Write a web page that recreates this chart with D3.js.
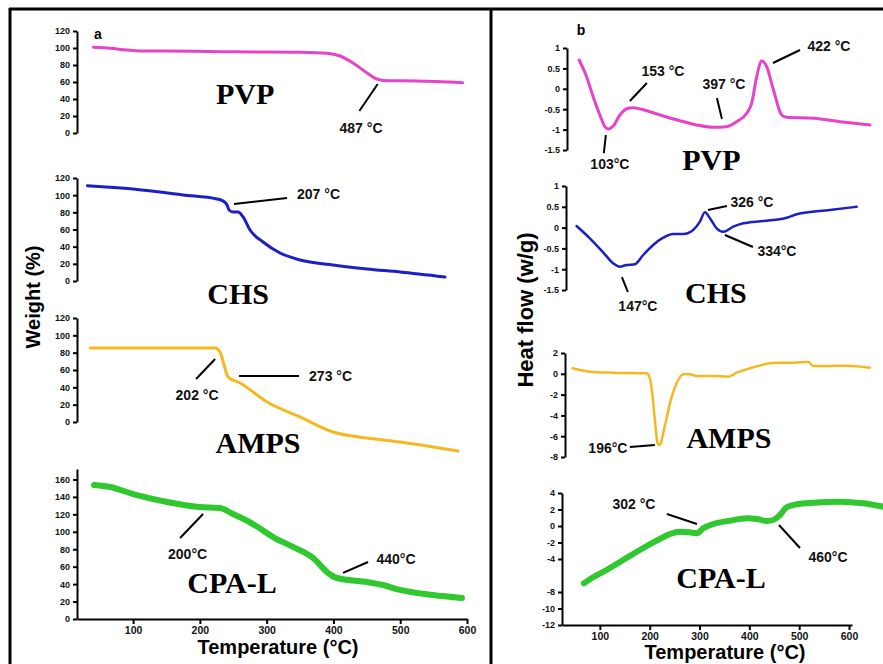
<!DOCTYPE html>
<html>
<head>
<meta charset="utf-8">
<script src="https://cdn.jsdelivr.net/npm/d3@7"></script>
<style>
  body { margin: 0; background: #fff; }
  svg { display: block; }
</style>
</head>
<body>
<div id="chart"></div>
<script>
const width = 883, height = 664;

// ---- TGA curves (a): [temperature °C, weight %]
const tgaPVP = [[40.6,100.8],[65.6,99.6],[90.6,97.6],[110.5,96.5],[150.4,96.5],[250.1,95.6],[350,94.9],[390,93.8],
  [409.9,90.6],[429.8,82],[449.8,70.9],[464.8,63.5],[479.8,61.5],[524.7,61.2],[593.6,59.2]];
const tgaCHS = [[31.6,111],[100,107.2],[174.9,100.2],[225.7,95.5],[234.7,93.2],[240.7,88.5],[243.7,82.7],[249.7,80.4],
  [257.2,80.4],[264.7,74.6],[275.1,59.4],[294.6,45.4],[320.1,32.6],[350,24.5],[399.4,18.6],[450.3,14],[499.7,10.5],[567,4.7]];
const tgaAMPS = [[35.6,85.4],[222.8,85.4],[230.2,80.8],[236.2,65.8],[242.2,51.9],[260.2,45],[300.6,23.1],[350,5.8],
  [399.4,-11.5],[450.3,-18.5],[499.7,-23.1],[549.1,-28.8],[586.5,-33.5]];
const tgaCPAL = [[41.6,153.7],[65.6,151.4],[100,143.3],[150.9,134.2],[198.8,128.4],[230.2,127.3],[249.7,120.4],
  [279.6,108.9],[309.6,94],[339.5,82.6],[369.5,70],[391.9,52.8],[405.4,47],[450.3,42.4],[474.3,39],[499.7,33.3],
  [549.1,27.5],[592.5,24.1]];

// ---- DSC curves (b): [temperature °C, heat flow w/g]
const dscPVP = [[58.4,0.706],[73.3,0.297],[86.5,-0.194],[100,-0.642],[110,-0.929],[116.7,-0.985],[126.7,-0.912],
  [140.2,-0.642],[156.8,-0.478],[166.9,-0.463],[193.8,-0.537],[227.1,-0.667],[260.6,-0.782],[294.2,-0.887],
  [327.5,-0.944],[354.4,-0.929],[374.5,-0.806],[394.6,-0.6],[404.6,-0.355],[414.7,0.297],[424.7,0.681],
  [434.8,0.542],[448.4,-0.029],[464.9,-0.642],[474.9,-0.699],[528.3,-0.723],[581.9,-0.806],[642.2,-0.887]];
const dscCHS = [[53.2,0.038],[79.9,-0.257],[106.6,-0.594],[126.7,-0.858],[140.2,-0.94],[153.6,-0.899],[170.3,-0.882],
  [186.9,-0.659],[207,-0.418],[227.1,-0.243],[247.2,-0.154],[267.3,-0.154],[287.3,-0.058],[300.8,0.142],
  [310.8,0.368],[320.9,0.224],[334.3,-0.017],[347.6,-0.099],[367.7,0.022],[387.8,0.103],[427.9,0.159],
  [474.9,0.238],[495,0.32],[561.8,0.423],[615.5,0.502]];
const dscAMPS = [[45.2,0.529],[79.9,0.202],[126.7,0.106],[193.8,0.048],[200.4,-0.433],[205.8,-2.202],[210.4,-4.442],
  [215.9,-6.683],[220.5,-6.846],[228.5,-5.404],[240.6,-2.837],[254,-0.913],[267.3,-0.048],[280.7,-0.048],
  [294.2,-0.212],[327.5,-0.212],[357.6,-0.279],[374.5,0.106],[407.8,0.625],[441.4,1.01],[461.4,1.067],
  [488.2,1.067],[518.3,1.135],[528.3,0.75],[561.8,0.75],[595.4,0.779],[642.2,0.587]];
const dscCPAL = [[67.9,-6.945],[86.5,-6.218],[113.5,-5.333],[146.8,-4.121],[180.3,-2.909],[213.9,-1.782],
  [240.6,-0.97],[260.6,-0.691],[280.7,-0.764],[294.2,-0.885],[307.4,-0.279],[327.5,0.242],[361,0.642],
  [394.6,0.933],[414.7,0.848],[434.7,0.606],[448,0.727],[461.4,1.333],[474.9,2.267],[495,2.63],[528.3,2.824],
  [581.9,2.945],[628.7,2.752],[668.9,2.339]];

// ---- tick values
const tempTicks = [100, 200, 300, 400, 500, 600];
const weightTicks = [0, 20, 40, 60, 80, 100, 120];
const weightTicksCPAL = [0, 20, 40, 60, 80, 100, 120, 140, 160];
const heatTicks = [-1.5, -1, -0.5, 0, 0.5, 1];
const heatTicksAMPS = [-8, -6, -4, -2, 0, 2];
const heatTicksCPAL = [-12, -10, -8, -4, -2, 0, 2, 4];

// ---- annotations: [text, line start [T,v], line end [T,v], text centre [T,v]]
const notesTgaPVP = [["487 °C", [466.3,57.6], [438.8,25.9], [441.3,5.9]]];
const notesTgaCHS = [["207 °C", [251.2,89.7], [330.5,96.7], [377.7,101.4]]];
const notesTgaAMPS = [["202 °C", [194.3,49.6], [222.8,72.7], [195.8,31.2]],
                      ["273 °C", [258.7,53.1], [348.5,53.1], [395.7,53.1]]];
const notesTgaCPAL = [["200°C", [170.4,92.9], [204.8,120.4], [181.6,74.5]],
                      ["440°C", [414.4,52.8], [451.8,65.4], [493.7,68.8]]];
const notesDscPVP = [["103°C", [112,-1.132], [108,-1.574], [120.1,-1.843]],
                     ["153 °C", [160.2,-0.299], [194.4,0.142], [226.5,0.436]],
                     ["397 °C", [334.9,-0.225], [345,-0.74], [349,0.118]],
                     ["422 °C", [447.4,0.632], [501.6,0.951], [559.8,1.049]]];
const notesDscCHS = [["326 °C", [316.9,0.423], [355,0.519], [405.2,0.615]],
                     ["334°C", [351,-0.178], [407.2,-0.466], [455.4,-0.563]],
                     ["147°C", [144.2,-1.188], [156.2,-1.548], [176.3,-1.885]]];
const notesDscAMPS = [["196°C", [160.2,-7.038], [210.4,-6.846], [116.1,-7.135]]];
const notesDscCPAL = [["302 °C", [234.5,1.455], [294.8,0.242], [168.3,2.667]],
                      ["460°C", [459.4,0.121], [501.6,-2.667], [557.8,-3.758]]];

// ---- scales
const xLeft = d3.scaleLinear().domain([16, 600]).range([77, 467]);
const xRight = d3.scaleLinear().domain([24, 606]).range([562, 852]);

const panels = [
  { data: tgaPVP, x: xLeft, axisX: 77, y: d3.scaleLinear().domain([0, 120]).range([133, 31]), ticks: weightTicks,
    color: "#e743c9", lw: 3, name: "PVP", nameAt: [267.7, 47], notes: notesTgaPVP },
  { data: tgaCHS, x: xLeft, axisX: 77, y: d3.scaleLinear().domain([0, 120]).range([281, 178]), ticks: weightTicks,
    color: "#1c1fc4", lw: 3, name: "CHS", nameAt: [257.2, -14], notes: notesTgaCHS },
  { data: tgaAMPS, x: xLeft, axisX: 77, y: d3.scaleLinear().domain([0, 120]).range([422, 318]), ticks: weightTicks,
    color: "#f5b820", lw: 3, name: "AMPS", nameAt: [287.1, -23.1], notes: notesTgaAMPS },
  { data: tgaCPAL, x: xLeft, axisX: 77, y: d3.scaleLinear().domain([0, 172]).range([619, 469]), ticks: weightTicksCPAL,
    color: "#2fc82f", lw: 6, name: "CPA-L", nameAt: [248.2, 41.3], notes: notesTgaCPAL },
  { data: dscPVP, x: xRight, axisX: 567, y: d3.scaleLinear().domain([-1.5, 1]).range([150, 48]), ticks: heatTicks,
    color: "#e743c9", lw: 3, name: "PVP", nameAt: [323.9, -1.721], notes: notesDscPVP },
  { data: dscCHS, x: xRight, axisX: 566, y: d3.scaleLinear().domain([-1.5, 1]).range([290, 186]), ticks: heatTicks,
    color: "#1c1fc4", lw: 2.5, name: "CHS", nameAt: [332.9, -1.572], notes: notesDscCHS },
  { data: dscAMPS, x: xRight, axisX: 565, y: d3.scaleLinear().domain([-8, 2]).range([457, 353]), ticks: heatTicksAMPS,
    color: "#f5b820", lw: 2.5, name: "AMPS", nameAt: [359, -6.173], notes: notesDscAMPS },
  { data: dscCPAL, x: xRight, axisX: 562, y: d3.scaleLinear().domain([-12, 4]).range([625, 493]), ticks: heatTicksCPAL,
    color: "#2fc82f", lw: 6, name: "CPA-L", nameAt: [343, -6.303], notes: notesDscCPAL }
];

const svg = d3.select("#chart")
  .append("svg")
  .attr("width", width)
  .attr("height", height)
  .attr("viewBox", `0 0 ${width} ${height}`);

const sans = "'Liberation Sans', Arial, sans-serif";
const serif = "'Liberation Serif', 'Times New Roman', serif";

// frame
svg.append("line").attr("x1", 9).attr("x2", width).attr("y1", 9).attr("y2", 9)
  .attr("stroke", "#000").attr("stroke-width", 3);
svg.append("line").attr("x1", 10).attr("x2", 10).attr("y1", 8).attr("y2", height)
  .attr("stroke", "#000").attr("stroke-width", 3);
svg.append("line").attr("x1", 491).attr("x2", 491).attr("y1", 8).attr("y2", height)
  .attr("stroke", "#000").attr("stroke-width", 3);

function styleAxis(g, size) {
  g.selectAll(".domain").attr("stroke", "#000").attr("stroke-width", 2);
  g.selectAll(".tick line").attr("stroke", "#000").attr("stroke-width", 2);
  g.selectAll(".tick text")
    .style("font-family", sans)
    .style("font-size", size + "px")
    .style("font-weight", "bold")
    .attr("fill", "#111");
}

panels.forEach(p => {
  const g = svg.append("g");

  // y axis
  const yAxis = g.append("g")
    .attr("transform", `translate(${p.axisX}, 0)`)
    .call(d3.axisLeft(p.y).tickValues(p.ticks).tickSize(4).tickSizeOuter(0).tickPadding(3)
      .tickFormat(d => String(d)));
  styleAxis(yAxis, 9);

  // curve
  const line = d3.line()
    .x(d => p.x(d[0]))
    .y(d => p.y(d[1]))
    .curve(d3.curveMonotoneX);

  g.append("path")
    .datum(p.data)
    .attr("d", line)
    .attr("fill", "none")
    .attr("stroke", p.color)
    .attr("stroke-width", p.lw)
    .attr("stroke-linecap", "round")
    .attr("stroke-linejoin", "round");

  // annotations
  p.notes.forEach(n => {
    g.append("line")
      .attr("x1", p.x(n[1][0])).attr("y1", p.y(n[1][1]))
      .attr("x2", p.x(n[2][0])).attr("y2", p.y(n[2][1]))
      .attr("stroke", "#000").attr("stroke-width", 2);
    g.append("text")
      .text(n[0])
      .attr("x", p.x(n[3][0]))
      .attr("y", p.y(n[3][1]))
      .attr("dy", "0.35em")
      .style("font-family", sans)
      .style("font-size", "14px")
      .style("font-weight", "bold")
      .style("text-anchor", "middle")
      .attr("fill", "#111");
  });

  // sample name
  g.append("text")
    .text(p.name)
    .attr("x", p.x(p.nameAt[0]))
    .attr("y", p.y(p.nameAt[1]))
    .attr("dy", "0.35em")
    .style("font-family", serif)
    .style("font-size", "30px")
    .style("font-weight", "bold")
    .style("text-anchor", "middle")
    .attr("fill", "#000");
});

// temperature axes
const xAxisL = svg.append("g")
  .attr("transform", "translate(0, 619)")
  .call(d3.axisBottom(xLeft).tickValues(tempTicks).tickSize(5).tickSizeOuter(0).tickPadding(3));
styleAxis(xAxisL, 10.5);

const xAxisR = svg.append("g")
  .attr("transform", "translate(0, 625)")
  .call(d3.axisBottom(xRight).tickValues(tempTicks).tickSize(5).tickSizeOuter(0).tickPadding(3));
styleAxis(xAxisR, 10.5);

// titles
function title(txt, x, y, size, rotate) {
  svg.append("text")
    .text(txt)
    .attr("transform", `translate(${x}, ${y})` + (rotate ? " rotate(-90)" : ""))
    .attr("dy", "0.35em")
    .style("font-family", sans)
    .style("font-size", size + "px")
    .style("font-weight", "bold")
    .style("text-anchor", "middle")
    .attr("fill", "#000");
}
title("Temperature (°C)", 278, 647, 20, false);
title("Temperature (°C)", 725, 652, 20, false);
title("Weight (%)", 33, 297, 20, true);
title("Heat flow (w/g)", 525, 310, 22, true);
title("a", 98, 34, 14, false);
title("b", 581, 30, 14, false);
</script>
</body>
</html>
